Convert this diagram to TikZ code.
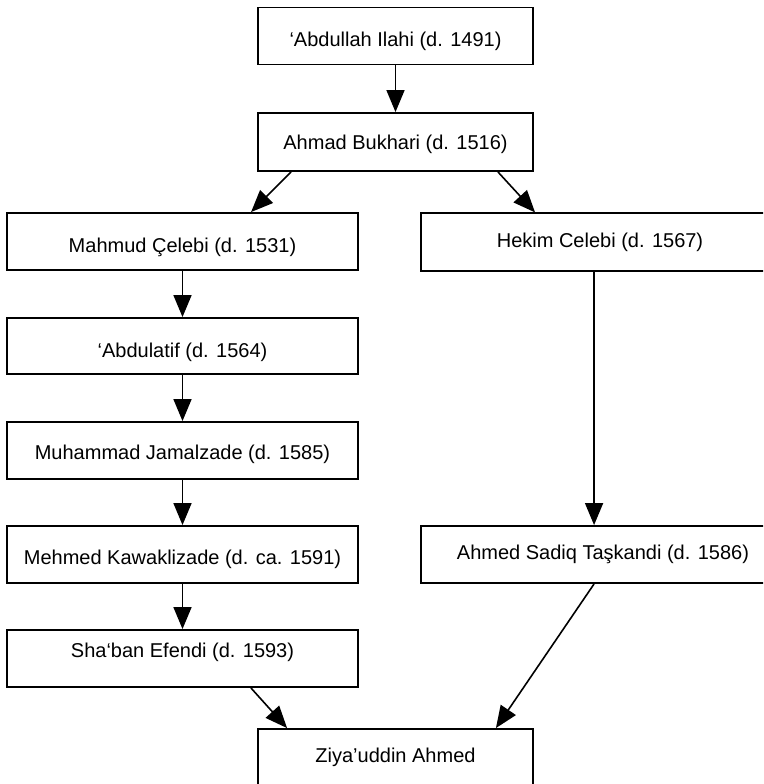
\documentclass[tikz,border=0pt]{standalone}
\usepackage{fontspec}
\setmainfont{Liberation Sans}
\usetikzlibrary{arrows.meta,calc}

\tikzset{
  box/.style={draw, line width=1.4pt, rectangle, inner sep=0pt},
  lbox/.style={box, minimum width=263.25pt, minimum height=42.75pt},
  cbox/.style={box, minimum width=206.25pt, minimum height=42.75pt},
  rbox/.style={box, minimum width=268.5pt, minimum height=43pt},
  txt/.style={font=\fontsize{15}{18}\selectfont, inner sep=0pt},
  link/.style={line width=1.2pt, -{Triangle[length=16.5pt,width=13.5pt]}}
}

\begin{document}
\begin{tikzpicture}[x=0.75pt, y=-0.75pt]
  \clip (0,0) rectangle (763,784);

  % central column
  \node[cbox, label={[txt, yshift=-4pt]center:‘Abdullah Ilahi (d. 1491)}] (abd) at (395.5,36) {};
  \node[cbox, minimum height=43.5pt, label={[txt, yshift=-2pt]center:Ahmad Bukhari (d. 1516)}] (buk) at (395.5,142) {};

  % left branch
  \node[lbox, label={[txt, yshift=-4.5pt]center:Mahmud Çelebi (d. 1531)}] (mah) at (182.5,241.5) {};
  \node[lbox, minimum height=42pt, label={[txt, yshift=-4.5pt]center:‘Abdulatif (d. 1564)}] (lat) at (182.5,346) {};
  \node[lbox, label={[txt, yshift=-3pt]center:Muhammad Jamalzade (d. 1585)}] (jam) at (182.5,450.5) {};
  \node[lbox, label={[txt, yshift=-3.75pt]center:Mehmed Kawaklizade (d. ca. 1591)}] (kaw) at (182.5,554.5) {};
  \node[lbox, label={[txt, yshift=4.5pt]center:Sha‘ban Efendi (d. 1593)}] (sha) at (182.5,658.5) {};

  % right branch
  \node[rbox, label={[txt]center:Hekim Celebi (d. 1567)}] (hek) at (600,242) {};
  \node[rbox, minimum height=42.75pt, label={[txt, xshift=2.25pt]center:Ahmed Sadiq Taşkandi (d. 1586)}] (sad) at (600,554.5) {};

  % common descendant
  \node[cbox, label={[txt]center:Ziya’uddin Ahmed}] (ziy) at (395.5,757.5) {};

  % connectors
  \draw[link] (abd) -- (buk);
  \draw[link] ($(buk.south west)+(34,0)$) -- ($(mah.north west)+(245,0)$);
  \draw[link] ($(buk.south east)+(-36,0)$) -- ($(hek.north west)+(115,0)$);
  \draw[link] (mah) -- (lat);
  \draw[link] (lat) -- (jam);
  \draw[link] (jam) -- (kaw);
  \draw[link] (kaw) -- (sha);
  \draw[link] ($(hek.south west)+(174,0)$) -- ($(sad.north west)+(174,0)$);
  \draw[link] ($(sha.south east)+(-108,0)$) -- ($(ziy.north west)+(30,0)$);
  \draw[link] ($(sad.south west)+(174,0)$) -- ($(ziy.north east)+(-38,0)$);
\end{tikzpicture}
\end{document}
